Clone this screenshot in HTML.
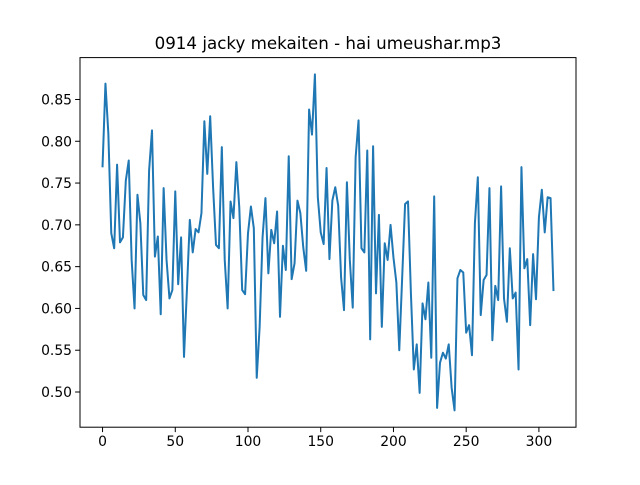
<!DOCTYPE html>
<html><head><meta charset="utf-8"><style>
html,body{margin:0;padding:0;background:#fff;}
svg text{font-family:"DejaVu Sans","Liberation Sans",sans-serif;fill:#000;}
</style></head><body>
<svg id="chart" width="640" height="480" xmlns="http://www.w3.org/2000/svg">
<rect width="640" height="480" fill="#fff"/>
<text x="328" y="49" font-size="16.7" text-anchor="middle">0914 jacky mekaiten - hai umeushar.mp3</text>
<g id="ticks"></g>
<polyline id="series" fill="none" stroke="#1f77b4" stroke-width="2" stroke-linejoin="round" stroke-linecap="square"/>
<rect x="80" y="57.6" width="496" height="369.6" fill="none" stroke="#000" stroke-width="1"/>
</svg>
<script>
const xStep = 2;
const values = [0.770,0.869,0.809,0.690,0.672,0.772,0.679,0.685,0.753,0.777,0.658,0.600,0.736,0.702,0.616,0.610,0.765,0.813,0.662,0.686,0.593,0.744,0.658,0.612,0.622,0.740,0.629,0.685,0.542,0.622,0.706,0.667,0.695,0.691,0.714,0.824,0.761,0.830,0.745,0.676,0.672,
0.793,0.658,0.600,0.728,0.708,0.775,0.721,0.622,0.617,0.690,0.722,0.696,0.517,0.578,0.685,0.732,0.642,0.694,0.678,0.716,0.590,0.675,0.646,0.782,0.635,0.654,0.729,0.714,0.673,0.645,0.838,0.808,0.880,0.733,0.691,0.677,0.768,0.659,0.729,
0.745,0.723,0.637,0.598,0.751,0.658,0.601,0.781,0.825,0.672,0.667,0.789,0.563,0.794,0.618,0.712,0.578,0.678,0.658,0.700,0.661,0.631,0.550,0.637,0.725,0.728,0.618,0.527,0.557,0.499,0.606,0.587,0.631,0.541,0.734,0.481,0.535,0.547,0.540,0.557,0.505,0.478,
0.636,0.646,0.643,0.571,0.580,0.544,0.702,0.757,0.592,0.634,0.640,0.744,0.562,0.627,0.610,0.746,0.612,0.584,0.672,0.612,0.619,0.527,0.769,0.648,0.659,0.580,0.665,0.611,0.709,0.742,0.691,0.733,0.732,0.622];
const xTicks = [0,50,100,150,200,250,300];
const xTickLabels = ["0","50","100","150","200","250","300"];
const yTicks = [0.50,0.55,0.60,0.65,0.70,0.75,0.80,0.85];
const yTickLabels = ["0.50","0.55","0.60","0.65","0.70","0.75","0.80","0.85"];

const L=80,R=576,T=57.6,B=427.2;
const xs = values.map((v,i)=>i*xStep);
const xMin0=Math.min(...xs), xMax0=Math.max(...xs), xm=(xMax0-xMin0)*0.05;
const yMin0=Math.min(...values), yMax0=Math.max(...values), ym=(yMax0-yMin0)*0.05;
const xMin=xMin0-xm, xMax=xMax0+xm, yMin=yMin0-ym, yMax=yMax0+ym;
function xScale(x){return L+(x-xMin)/(xMax-xMin)*(R-L);}
function yScale(y){return B-(y-yMin)/(yMax-yMin)*(B-T);}
const NS="http://www.w3.org/2000/svg";
const line=document.getElementById('series');
line.setAttribute('points', values.map((v,i)=>xScale(xs[i]).toFixed(2)+','+yScale(v).toFixed(2)).join(' '));
const g=document.getElementById('ticks');
xTicks.forEach((t,i)=>{
  const x=xScale(t);
  const l=document.createElementNS(NS,'line');
  l.setAttribute('x1',x);l.setAttribute('x2',x);l.setAttribute('y1',B);l.setAttribute('y2',B+4.9);l.setAttribute('stroke','#000');
  
  
  g.appendChild(l);
  const tx=document.createElementNS(NS,'text');
  tx.setAttribute('x',x);tx.setAttribute('y',B+19);tx.setAttribute('font-size','13.9');tx.setAttribute('text-anchor','middle');
  tx.textContent=xTickLabels[i];
  
  
  g.appendChild(tx);
});
yTicks.forEach((t,i)=>{
  const y=yScale(t);
  const l=document.createElementNS(NS,'line');
  l.setAttribute('x1',L-4.9);l.setAttribute('x2',L);l.setAttribute('y1',y);l.setAttribute('y2',y);l.setAttribute('stroke','#000');
  
  
  g.appendChild(l);
  const tx=document.createElementNS(NS,'text');
  tx.setAttribute('x',L-8);tx.setAttribute('y',y+5);tx.setAttribute('font-size','13.9');tx.setAttribute('text-anchor','end');
  tx.textContent=yTickLabels[i];
  
  
  g.appendChild(tx);
});
</script>
</body></html>
